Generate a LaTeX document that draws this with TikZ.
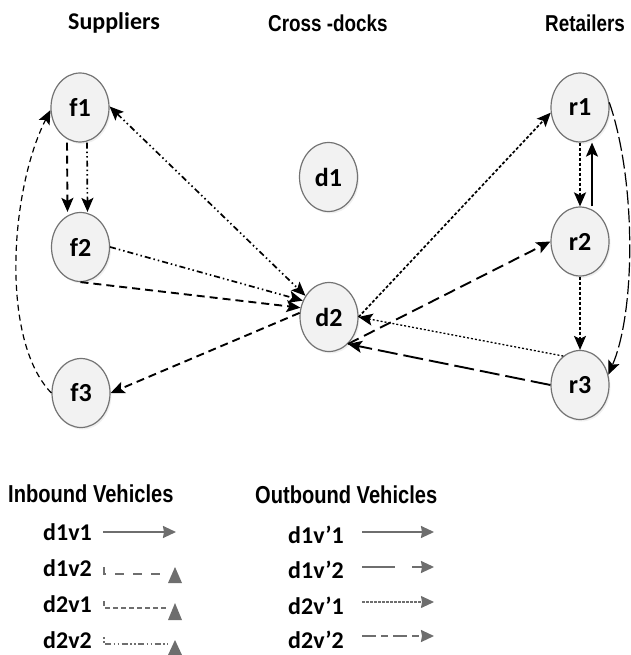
\documentclass[tikz,border=0pt]{standalone}
\usepackage{fontspec}
\setmainfont{Carlito}
\newfontfamily\narrowfont{Liberation Sans}[FakeStretch=0.82]
\usetikzlibrary{arrows.meta,shapes.geometric,shadows}

\definecolor{keygray}{HTML}{6E6E6E}

\tikzset{
    place/.style={ellipse, draw=black!55, line width=1.2pt, fill=black!5,
        minimum width=58pt, minimum height=69pt, inner sep=0pt,
        font=\fontsize{26}{26}\selectfont\bfseries,
        drop shadow={opacity=0.12, shadow xshift=1.5pt, shadow yshift=-2pt}},
    route/.style={-{Stealth[length=14pt,width=12pt,inset=3pt]}},
    both/.style={{Stealth[length=14pt,width=12pt,inset=3pt]}-{Stealth[length=14pt,width=12pt,inset=3pt]}},
    % line looks of the tours
    dashIn/.style={line width=1.9pt, dash pattern=on 8pt off 5pt},
    dashDot/.style={line width=1.7pt, dash pattern=on 6pt off 3pt on 1.5pt off 3pt on 1.5pt off 3pt},
    dotOut/.style={line width=1.7pt, dash pattern=on 3pt off 2pt},
    dotThin/.style={line width=1.3pt, dash pattern=on 2pt off 2pt},
    longDash/.style={line width=1.9pt, dash pattern=on 12pt off 6pt},
    longerDash/.style={line width=1.9pt, dash pattern=on 20pt off 6pt},
    curveIn/.style={line width=1.2pt, dash pattern=on 6pt off 4pt},
    curveOut/.style={line width=1.2pt, dash pattern=on 14pt off 4pt},
    % legend
    head/.style={anchor=base west, inner sep=0pt, font=\narrowfont\fontsize{23}{23}\selectfont\bfseries},
    keytext/.style={anchor=base west, inner sep=0pt, font=\fontsize{24}{24}\selectfont\bfseries},
    keyline/.style={draw=keygray, line width=1.8pt},
    keytip/.style={-{Stealth[length=13pt,width=12pt,inset=1pt]}}
}

\begin{document}
\begin{tikzpicture}[x=1pt,y=-1pt]
    \useasboundingbox (0,0) rectangle (630,655);

    % column titles
    \node[anchor=base west, inner sep=0pt, font=\fontsize{24}{24}\selectfont\bfseries] (tsup) at (68,30) {Suppliers};
    \node[head] (tcross) at (268,32) {Cross -docks};
    \node[head] (tret) at (545,32) {Retailers};

    % suppliers, cross-docks, retailers
    \node[place] (f1) at (80,107.5) {f1};
    \node[place] (f2) at (80.5,247) {f2};
    \node[place] (f3) at (81,393) {f3};
    \node[place] (d1) at (328.5,177) {d1};
    \node[place] (d2) at (329,317) {d2};
    \node[place] (r1) at (580,107.5) {r1};
    \node[place] (r2) at (580,241.5) {r2};
    \node[place] (r3) at (580,385) {r3};

    % inbound side
    \draw[dashIn, route] ([xshift=-13pt]f1.south) -- ([xshift=-13pt]f2.north);
    \draw[dashDot, route] ([xshift=7pt]f1.south) -- ([xshift=7pt]f2.north);
    \draw[dashDot, both] (f1.2) -- (d2.138);
    \draw[dashDot, route] (f2.east) -- (d2.148);
    \draw[dashIn, route] (f2.south) -- (d2.162);
    \draw[dashIn, route] (d2.172) -- (f3.east);
    \draw[curveIn, route] (f3.west) .. controls (0,340) and (10,190) .. (f1.185);

    % outbound side
    \draw[dotOut, route] (d2.east) -- (r1.190);
    \draw[longDash, route] (d2.-55) -- (r2.west);
    \draw[dotOut, route] (r1.south) -- (r2.north);
    \draw[line width=1.6pt, route] ([xshift=12pt]r2.north) -- ([xshift=12pt]r1.south);
    \draw[dotOut, route] (r2.south) -- (r3.north);
    \draw[dotThin, route] (r3.120) -- (d2.east);
    \draw[longerDash, route] (r3.west) -- (d2.-55);
    \draw[curveOut, route] (r1.10) .. controls (636,180) and (636,310) .. (r3.20);

    % legend
    \node[head, font=\narrowfont\fontsize{24.5}{24.5}\selectfont\bfseries] (inb) at (8,502) {Inbound Vehicles};
    \node[head, font=\narrowfont\fontsize{24.5}{24.5}\selectfont\bfseries] (outb) at (255,503) {Outbound Vehicles};

    \node[keytext] (k11) at (43,540) {d1v1};
    \node[keytext] (k12) at (43,576) {d1v2};
    \node[keytext] (k21) at (43,612) {d2v1};
    \node[keytext] (k22) at (43,648) {d2v2};
    \draw[keyline, keytip] (103,532) -- (176,532);
    \draw[keyline, dash pattern=on 9pt off 9pt] (104,567) |- (166,574);
    \fill[keygray] (168,583) -- (175,567) -- (182,583) -- cycle;
    \draw[keyline, line width=1.4pt, dash pattern=on 5pt off 3pt] (104,601) |- (168,608);
    \fill[keygray] (168,620) -- (175,603) -- (182,620) -- cycle;
    \draw[keyline, line width=1.4pt, dash pattern=on 1.5pt off 2.5pt on 1.5pt off 2.5pt on 6pt off 2.5pt] (104,637) |- (168,644);
    \fill[keygray] (168,655) -- (175,640) -- (182,655) -- cycle;

    \node[keytext] (o11) at (288,543) {d1v’1};
    \node[keytext] (o12) at (288,578) {d1v’2};
    \node[keytext] (o21) at (288,614) {d2v’1};
    \node[keytext] (o22) at (288,648) {d2v’2};
    \draw[keyline, keytip] (362,532) -- (434,532);
    \draw[keyline, keytip, dash pattern=on 33pt off 17pt] (362,567) -- (434,567);
    \draw[keyline, keytip, line width=1.2pt, dash pattern=on 2.5pt off 1.5pt] (362,602) -- (434,602);
    \draw[keyline, keytip, dash pattern=on 14pt off 5pt on 7pt off 5pt] (362,636) -- (434,636);
\end{tikzpicture}
\end{document}
